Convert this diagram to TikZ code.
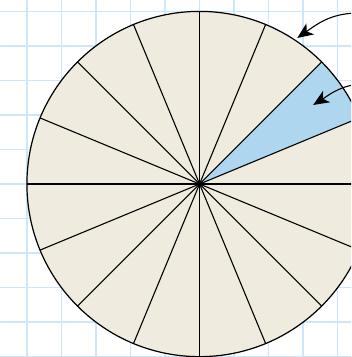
\documentclass[tikz,border=0pt]{standalone}
\usepackage{tikz}
\usetikzlibrary{arrows.meta}
\definecolor{gridblue}{HTML}{CCE7F7}
\definecolor{piebeige}{HTML}{F0EBDF}
\definecolor{sliceblue}{HTML}{AED6EE}
\begin{document}
\begin{tikzpicture}[
    gridline/.style={gridblue, line width=1.1pt},
    spoke/.style={black, line width=0.9pt},
    rim/.style={black, line width=1pt},
    arr/.style={-{Stealth[length=13pt,width=11pt,inset=3.5pt]}, line width=0.9pt}
  ]
    \useasboundingbox (-5.78,-5.01) rectangle (4.39,5.33);
    \clip (-5.78,-5.01) rectangle (4.39,5.33);

    % === Grid ===
    \foreach \x in {-5,...,4} \draw[gridline] (\x,-5.5) -- (\x,5.5);
    \foreach \y in {-5,...,5} \draw[gridline] (-6,\y) -- (4.5,\y);

    % === Pie ===
    \coordinate (c) at (0,0);
    \fill[piebeige] (c) circle (5);
    \fill[sliceblue] (c) -- (22.5:5) arc (22.5:45:5) -- cycle;
    \foreach \a in {0,22.5,...,337.5}
      \draw[spoke] (c) -- (\a:5);
    \draw[rim] (c) circle (5);

    % === Pointers ===
    \coordinate (rimsrc) at (4.5,4.95);
    \coordinate (rimtip) at (2.83,4.23);
    \coordinate (slicesrc) at (4.5,2.88);
    \coordinate (slicetip) at (3.29,2.29);

    \draw[arr] (rimsrc) to[out=182,in=35] (rimtip);
    \draw[arr] (slicesrc) to[out=190,in=32] (slicetip);
\end{tikzpicture}
\end{document}
